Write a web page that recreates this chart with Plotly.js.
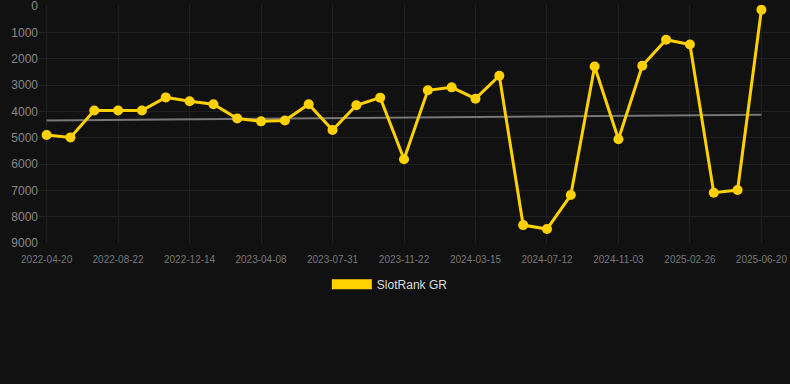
<!DOCTYPE html>
<html>
<head>
<meta charset="utf-8">
<script src="https://cdn.plot.ly/plotly-3.0.1.min.js"></script>
<style>
html,body{margin:0;padding:0;background:#111111;}
#chart{width:790px;height:384px;}
</style>
</head>
<body>
<div id="chart"></div>
<script>
const dates = [
  "2022-04-20","2022-06-01","2022-07-12","2022-08-22","2022-09-29","2022-11-06",
  "2022-12-14","2023-01-21","2023-02-28","2023-04-08","2023-05-16","2023-06-23",
  "2023-07-31","2023-09-07","2023-10-15","2023-11-22","2023-12-30","2024-02-06",
  "2024-03-15","2024-04-24","2024-06-02","2024-07-12","2024-08-19","2024-09-26",
  "2024-11-03","2024-12-11","2025-01-18","2025-02-26","2025-04-05","2025-05-13",
  "2025-06-20"
];
const ranks = [
  4900, 4990, 3970, 3970, 3970, 3470,
  3620, 3730, 4270, 4380, 4350, 3730,
  4710, 3770, 3480, 5820, 3200, 3090,
  3520, 2650, 8320, 8470, 7180, 2300,
  5060, 2270, 1280, 1460, 7090, 6990,
  140
];
const trendDates = ["2022-04-20", "2025-06-20"];
const trendValues = [4350, 4130];
const tickDates = dates.filter((d, i) => i % 3 === 0);
const yTicks = [0,1000,2000,3000,4000,5000,6000,7000,8000,9000];
const seriesName = "SlotRank GR";

const gold = "#FFD100";
const traces = [
  {
    x: trendDates, y: trendValues, type: "scatter", mode: "lines",
    line: {color: "#777777", width: 2}, showlegend: false, hoverinfo: "skip"
  },
  {
    x: dates, y: ranks, type: "scatter", mode: "lines+markers",
    line: {color: gold, width: 3}, marker: {color: gold, size: 10},
    showlegend: false, name: seriesName
  },
  {
    x: [null], y: [null], type: "scatter", mode: "lines",
    line: {color: gold, width: 12}, name: seriesName, showlegend: true
  }
];

const layout = {
  width: 790, height: 384,
  paper_bgcolor: "#111111", plot_bgcolor: "#111111",
  margin: {l: 39, r: 0, t: 5, b: 141},
  font: {family: "Liberation Sans, Arial, sans-serif", color: "#888888"},
  xaxis: {
    type: "category", categoryorder: "array", categoryarray: dates,
    range: [-0.32, 31.2],
    tickmode: "array", tickvals: tickDates, ticktext: tickDates,
    tickfont: {size: 10, color: "#777777"}, ticklabelstandoff: 9,
    ticklabeloverflow: "allow",
    showgrid: true, gridcolor: "#1f1f1f", gridwidth: 1,
    zeroline: false, showline: false, ticks: "", fixedrange: true
  },
  yaxis: {
    range: [9000, -38], tickmode: "array", tickvals: yTicks,
    tickfont: {size: 12, color: "#888888"}, ticklabeloverflow: "allow",
    showgrid: true, gridcolor: "#1f1f1f", gridwidth: 1,
    zeroline: false, showline: false, ticks: "", fixedrange: true
  },
  showlegend: true,
  legend: {
    orientation: "h", x: 0.3833, xanchor: "left", y: -0.173, yanchor: "middle",
    font: {size: 12, color: "#dddddd"}, itemwidth: 40,
    bgcolor: "rgba(0,0,0,0)"
  }
};

Plotly.newPlot("chart", traces, layout, {displayModeBar: false, staticPlot: true});
</script>
</body>
</html>
